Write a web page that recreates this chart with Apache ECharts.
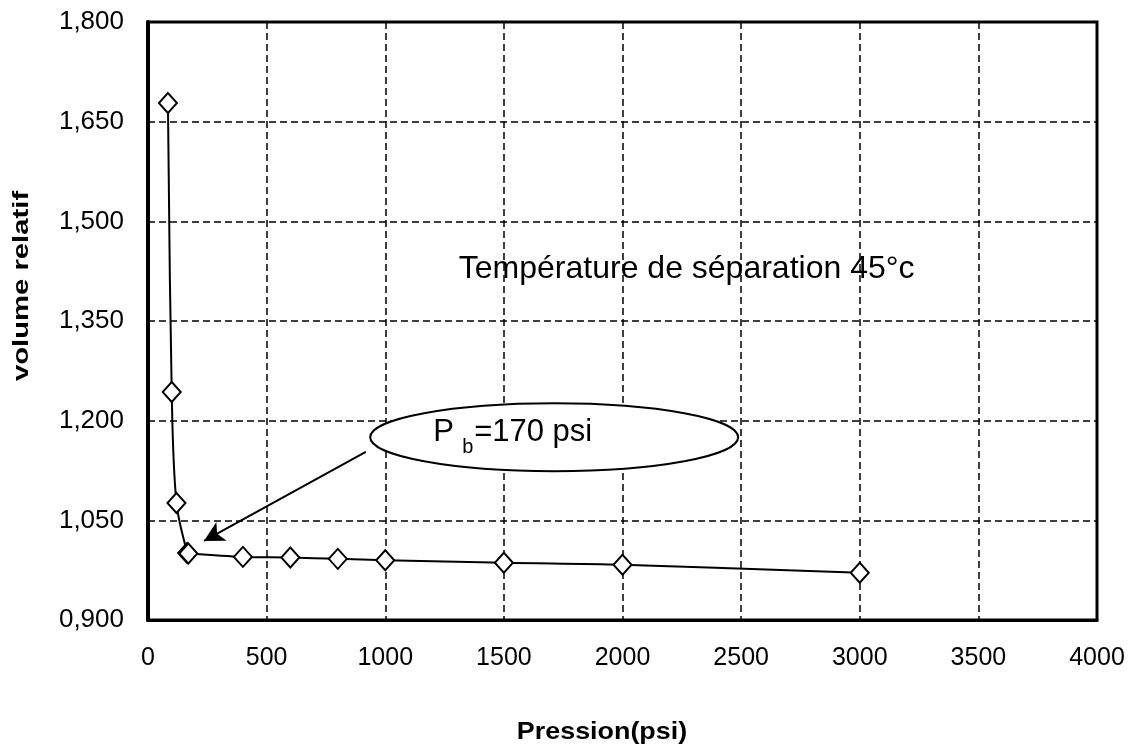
<!DOCTYPE html>
<html>
<head>
<meta charset="utf-8">
<script src="https://cdn.jsdelivr.net/npm/echarts@6/dist/echarts.min.js"></script>
<style>
  html, body { margin: 0; padding: 0; background: #fff; }
  #chart { width: 1133px; height: 747px; }
</style>
</head>
<body>
<div id="chart"></div>
<script>
// Relative volume vs pressure, separator temperature 45°C
const pressures = [84, 100, 120, 165, 170, 400, 600, 800, 1000, 1500, 2000, 3000];
const volumes   = [1.678, 1.243, 1.076, 1.001, 1.000, 0.995, 0.994, 0.992, 0.990, 0.986, 0.983, 0.971];
const xTicks = { min: 0, max: 4000, interval: 500 };
const yTicks = { min: 0.9, max: 1.8, interval: 0.15 };
const xTitle = 'Pression(psi)';
const yTitle = 'volume relatif';
const noteText = 'Température de séparation 45°c';
const bubbleMain = 'P';
const bubbleSub = 'b';
const bubbleRest = '=170 psi';
// arrow from the bubble down to the bubble-point
const arrowFrom = [918, 1.153];
const arrowTo = [236, 1.019];
const bubbleCenter = [1712, 1.175];
const noteAnchor = [1310, 1.428];

const FONT = '"Liberation Sans", Arial, sans-serif';
const chart = echarts.init(document.getElementById('chart'));

const points = pressures.map((p, i) => [p, volumes[i]]);

chart.setOption({
  backgroundColor: '#fff',
  animation: false,
  grid: {
    left: 148, top: 22, right: 36, bottom: 127,
    show: true, borderColor: '#000', borderWidth: 3, backgroundColor: 'transparent'
  },
  xAxis: {
    type: 'value', min: xTicks.min, max: xTicks.max, interval: xTicks.interval,
    axisLine: { show: true, onZero: false, lineStyle: { color: '#000', width: 3 } },
    axisTick: { show: false },
    axisLabel: { color: '#000', fontFamily: FONT, fontSize: 25, margin: 26, formatter: v => String(v) },
    splitLine: { show: true, lineStyle: { color: '#000', width: 1.5, type: [7, 4] } }
  },
  yAxis: {
    type: 'value', min: yTicks.min, max: yTicks.max, interval: yTicks.interval,
    axisLine: { show: true, onZero: false, lineStyle: { color: '#000', width: 4 } },
    axisTick: { show: false },
    axisLabel: {
      color: '#000', fontFamily: FONT, fontSize: 26, margin: 24,
      formatter: v => v.toFixed(3).replace('.', ',')
    },
    splitLine: { show: true, lineStyle: { color: '#000', width: 1.5, type: [7, 4] } }
  },
  series: [{
    type: 'line',
    data: points,
    smooth: 0.35,
    symbol: 'diamond',
    symbolSize: [18, 20],
    showAllSymbol: true,
    lineStyle: { color: '#000', width: 2 },
    itemStyle: { color: '#fff', borderColor: '#000', borderWidth: 2 },
    z: 3,
    markLine: {
      silent: true,
      symbol: ['none', 'arrow'],
      symbolSize: [16, 20],
      label: { show: false },
      lineStyle: { color: '#000', width: 2, type: 'solid' },
      data: [[{ coord: arrowFrom }, { coord: arrowTo }]]
    }
  }]
});

// annotations placed through the axes' own coordinate conversion
const c = chart.convertToPixel({ gridIndex: 0 }, bubbleCenter);
const n = chart.convertToPixel({ gridIndex: 0 }, noteAnchor);

chart.setOption({
  graphic: [
    {
      type: 'text', x: n[0], y: n[1],
      style: { text: noteText, font: '32px ' + FONT, fill: '#000', textAlign: 'left', textVerticalAlign: 'middle' },
      z: 10
    },
    {
      type: 'group', x: c[0], y: c[1], z: 10,
      children: [
        { type: 'ellipse', shape: { cx: 0, cy: 0, rx: 184, ry: 34 },
          style: { fill: '#fff', stroke: '#000', lineWidth: 2 } },
        { type: 'text', x: -121, y: 11,
          style: { text: bubbleMain, font: '31px ' + FONT, fill: '#000', textAlign: 'left', textVerticalAlign: 'bottom' } },
        { type: 'text', x: -92, y: 20,
          style: { text: bubbleSub, font: '20px ' + FONT, fill: '#000', textAlign: 'left', textVerticalAlign: 'bottom' } },
        { type: 'text', x: -80, y: 11,
          style: { text: bubbleRest, font: '31px ' + FONT, fill: '#000', textAlign: 'left', textVerticalAlign: 'bottom' } }
      ]
    },
    {
      type: 'text', x: 602, y: 732,
      style: { text: xTitle, font: 'bold 24px ' + FONT, fill: '#000', textAlign: 'center', textVerticalAlign: 'middle' },
      scaleX: 1.12
    },
    {
      type: 'text', x: 22, y: 286, rotation: Math.PI / 2,
      style: { text: yTitle, font: 'bold 22px ' + FONT, fill: '#000', textAlign: 'center', textVerticalAlign: 'middle' },
      scaleX: 1.33
    }
  ]
});
</script>
</body>
</html>
